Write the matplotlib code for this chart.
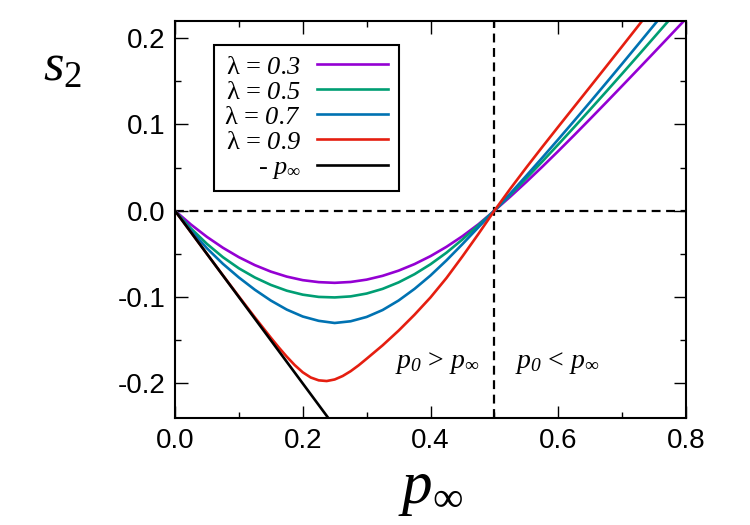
import numpy as np
import matplotlib
matplotlib.use('Agg')
from matplotlib import pyplot as plt
from matplotlib.ticker import MultipleLocator

# 곡선 값
p_grid = [0.0, 0.025, 0.05, 0.075, 0.1, 0.125, 0.15, 0.175, 0.2, 0.225, 0.25,
          0.275, 0.3, 0.325, 0.35, 0.375, 0.4, 0.425, 0.45, 0.475, 0.5,
          0.525, 0.55, 0.575, 0.6, 0.625, 0.65, 0.675, 0.7, 0.725, 0.75, 0.775, 0.8]

s2_l03 = [0.0, -0.016, -0.0303, -0.0429, -0.0538, -0.0630, -0.0705, -0.0763, -0.0804, -0.0827, -0.0835,
          -0.0825, -0.0798, -0.0754, -0.0694, -0.0618, -0.0526, -0.0418, -0.0295, -0.0157, 0.0,
          0.0163, 0.0333, 0.0509, 0.0690, 0.0875, 0.1063, 0.1253, 0.1445, 0.1638, 0.1832, 0.2027, 0.2223]

s2_l05 = [0.0, -0.0205, -0.0384, -0.0538, -0.0667, -0.0773, -0.0859, -0.0926, -0.0972, -0.0998, -0.1004,
          -0.0992, -0.0959, -0.0905, -0.0830, -0.0735, -0.0620, -0.0486, -0.0333, -0.0168, 0.0,
          0.0185, 0.0375, 0.0569, 0.0767, 0.0968, 0.1172, 0.1378, 0.1586, 0.1796, 0.2007, 0.2219, 0.2432]

s2_l07 = [0.0, -0.0230, -0.0435, -0.0615, -0.0773, -0.0915, -0.1040, -0.1145, -0.1225, -0.1275, -0.1300,
          -0.1280, -0.1230, -0.1150, -0.1040, -0.0905, -0.0750, -0.0575, -0.0387, -0.0192, 0.0,
          0.0200, 0.0405, 0.0614, 0.0826, 0.1041, 0.1259, 0.1479, 0.1701, 0.1925, 0.2150, 0.2376, 0.2603]

# λ = 0.9 는 최소점 근처가 뾰족해서 점을 더 넣음
p_red = [0.0, 0.025, 0.05, 0.075, 0.1, 0.125, 0.15,
         0.1625, 0.175, 0.1875, 0.2, 0.2125, 0.225, 0.2375, 0.25, 0.2625, 0.275, 0.2875, 0.3,
         0.325, 0.35, 0.375, 0.4, 0.425, 0.45, 0.475, 0.5,
         0.525, 0.55, 0.575, 0.6, 0.625, 0.65, 0.675, 0.7, 0.725, 0.75, 0.775, 0.8]
s2_l09 = [0.0, -0.025, -0.050, -0.0748, -0.0993, -0.1235, -0.147,
          -0.1583, -0.1690, -0.1788, -0.1871, -0.1931, -0.1964, -0.1972, -0.1954, -0.1914, -0.1858, -0.1790, -0.1714,
          -0.1559, -0.1389, -0.1204, -0.1004, -0.0779, -0.0529, -0.0269, 0.0,
          0.0255, 0.0500, 0.0738, 0.0972, 0.1204, 0.1436, 0.1669, 0.1903, 0.2138, 0.2374, 0.2611, 0.2849]

neg_p = [0.0, 0.25]
neg_s2 = [0.0, -0.25]

labels = ['λ = $\\mathsf{0.3}$', 'λ = $\\mathsf{0.5}$', 'λ = $\\mathsf{0.7}$',
          'λ = $\\mathsf{0.9}$', '- $p_\\infty$']
colors = ['#9400d3', '#009e73', '#0072b2', '#e51e10', 'black']

plt.rcParams['mathtext.fontset'] = 'custom'
plt.rcParams['mathtext.rm'] = 'Liberation Serif'
plt.rcParams['mathtext.it'] = 'Liberation Serif:italic'
plt.rcParams['mathtext.sf'] = 'Liberation Serif:italic'   # 기울어진 숫자용
plt.rcParams['font.family'] = ['Liberation Sans', 'DejaVu Sans']

fig = plt.figure(figsize=(7.5, 5.25), dpi=100)
ax = fig.add_axes([175/750, 107/525, 511/750, 397.3/525])

# 점선 기준선
dash = (0, (4, 2.5))
ax.axhline(0.0, color='black', lw=1.6, ls=dash, zorder=1)
ax.axvline(0.5, color='black', lw=1.6, ls=dash, zorder=1)

ax.plot(p_grid, s2_l03, color=colors[0], lw=1.9, label=labels[0])
ax.plot(p_grid, s2_l05, color=colors[1], lw=1.9, label=labels[1])
ax.plot(p_grid, s2_l07, color=colors[2], lw=1.9, label=labels[2])
ax.plot(p_red, s2_l09, color=colors[3], lw=1.9, label=labels[3])
ax.plot(neg_p, neg_s2, color=colors[4], lw=1.9, label=labels[4])

ax.set_xlim(0, 0.8)
ax.set_ylim(-0.24, 0.22)
ax.xaxis.set_major_locator(MultipleLocator(0.2))
ax.xaxis.set_minor_locator(MultipleLocator(0.1))
ax.yaxis.set_major_locator(MultipleLocator(0.1))
ax.yaxis.set_minor_locator(MultipleLocator(0.05))
ax.xaxis.set_major_formatter(lambda v, pos: f'{v:.1f}')
ax.yaxis.set_major_formatter(lambda v, pos: f'{v:.1f}')
ax.tick_params(which='both', direction='in', top=True, right=True, width=1.0)
ax.tick_params(which='major', length=9, labelsize=20, pad=7)
ax.tick_params(which='minor', length=4.5)
for s in ax.spines.values():
    s.set_linewidth(1.5)

ax.set_xlabel('$p_\\infty$', fontsize=44, labelpad=5)
ax.text(-0.22, 0.885, '$s_2$', fontsize=38, transform=ax.transAxes,
        ha='center', va='center')

ax.text(0.41, -0.182, '$p_{\\mathsf{0}}$ > $p_\\infty$', fontsize=20,
        family='Liberation Serif', ha='center', va='baseline')
ax.text(0.598, -0.182, '$p_{\\mathsf{0}}$ < $p_\\infty$', fontsize=20,
        family='Liberation Serif', ha='center', va='baseline')

leg = ax.legend(loc='upper left', bbox_to_anchor=(0.076, 0.94), borderaxespad=0,
                markerfirst=False, fancybox=False, framealpha=1, edgecolor='black',
                prop={'family': 'Liberation Serif', 'size': 19},
                handlelength=2.7, handletextpad=0.6, labelspacing=0.06,
                borderpad=0.4)
leg.get_frame().set_linewidth(1.5)

fig.savefig('out.png', dpi=100)
